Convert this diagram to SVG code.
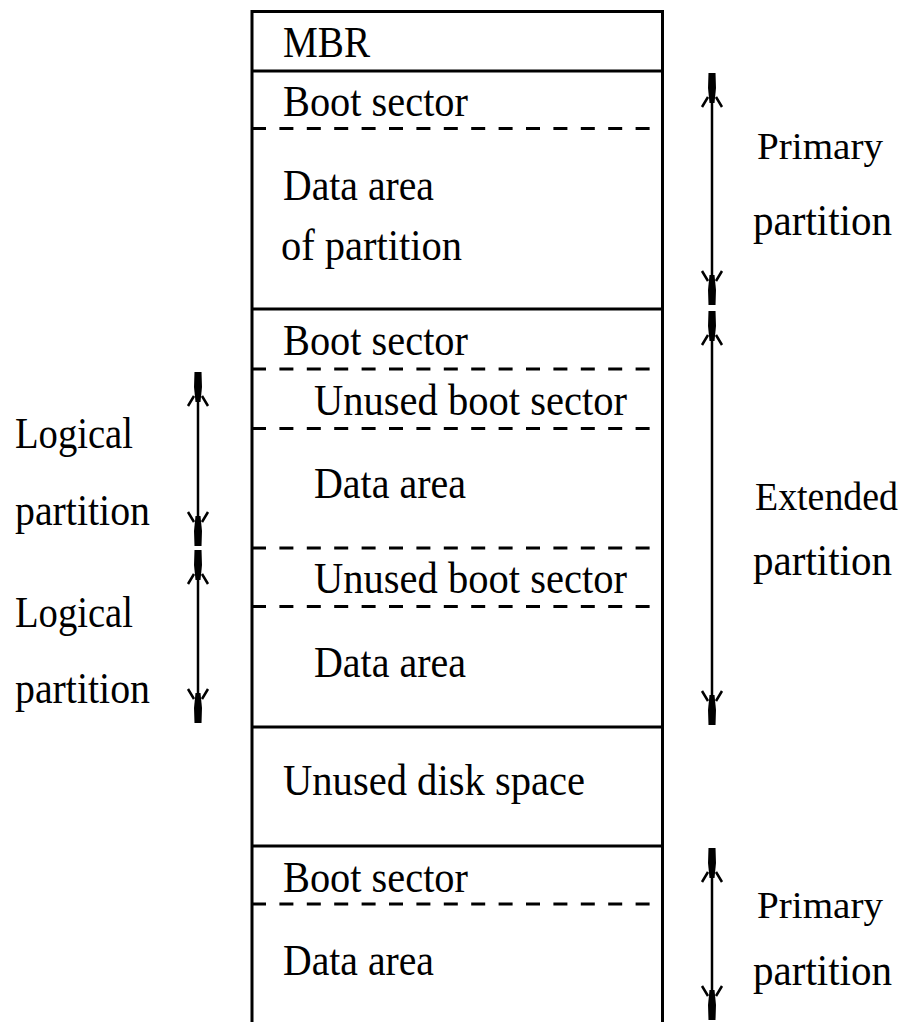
<svg xmlns="http://www.w3.org/2000/svg" width="910" height="1022" viewBox="0 0 910 1022">
  <style>
    .solid { stroke: #000; stroke-width: 3; fill: none; }
    .dash { stroke: #000; stroke-width: 3; fill: none; stroke-dasharray: 14 13.4; }
    .lbl { font-family: "Liberation Serif", "Times New Roman", serif; font-size: 44px; fill: #000; }
    .small { font-size: 38px; }
    .narrow { font-size: 40px; }
    .arrow { stroke: #000; stroke-width: 2.5; fill: none; marker-start: url(#tip); marker-end: url(#tip); }
  </style>
  <defs>
    <marker id="tip" markerUnits="userSpaceOnUse" viewBox="-40 -12 42 24" markerWidth="42" markerHeight="24" refX="0" refY="0" orient="auto-start-reverse">
      <path d="M0,-3.5 L-15,-4 L-30,-2.5 L-30,2.5 L-15,4 L0,3.5 Z" fill="#000"/>
      <path d="M-34,-10 L-24,-4 M-34,10 L-24,4" stroke="#000" stroke-width="2.5" fill="none"/>
    </marker>
  </defs>
  <rect width="910" height="1022" fill="#fff"/>

  <!-- disk layout column -->
  <g id="disk">
    <path class="solid" d="M252,1022 V11.5 H662.5 V1022"/>
  </g>

  <g id="mbr">
    <line class="solid" x1="252" y1="71" x2="662.5" y2="71"/>
    <text class="lbl" x="283" y="57" textLength="87" lengthAdjust="spacingAndGlyphs">MBR</text>
  </g>

  <g id="primary1">
    <text class="lbl" x="283" y="116" textLength="185" lengthAdjust="spacingAndGlyphs">Boot sector</text>
    <line class="dash" x1="252" y1="128.5" x2="652" y2="128.5"/>
    <text class="lbl" x="283" y="200" textLength="151" lengthAdjust="spacingAndGlyphs">Data area</text>
    <text class="lbl" x="281" y="260" textLength="181" lengthAdjust="spacingAndGlyphs">of partition</text>
    <line class="solid" x1="252" y1="309" x2="662.5" y2="309"/>
  </g>

  <g id="extended">
    <text class="lbl" x="283" y="355" textLength="185" lengthAdjust="spacingAndGlyphs">Boot sector</text>
    <line class="dash" x1="252" y1="369" x2="652" y2="369"/>
  </g>

  <g id="logical1">
    <text class="lbl" x="314" y="415" textLength="313" lengthAdjust="spacingAndGlyphs">Unused boot sector</text>
    <line class="dash" x1="252" y1="428.5" x2="652" y2="428.5"/>
    <text class="lbl" x="314" y="498" textLength="152" lengthAdjust="spacingAndGlyphs">Data area</text>
    <line class="dash" x1="252" y1="548" x2="652" y2="548"/>
  </g>

  <g id="logical2">
    <text class="lbl" x="314" y="593" textLength="313" lengthAdjust="spacingAndGlyphs">Unused boot sector</text>
    <line class="dash" x1="252" y1="606.5" x2="652" y2="606.5"/>
    <text class="lbl" x="314" y="677" textLength="152" lengthAdjust="spacingAndGlyphs">Data area</text>
    <line class="solid" x1="252" y1="727" x2="662.5" y2="727"/>
  </g>

  <g id="unused">
    <text class="lbl" x="283" y="795" textLength="302" lengthAdjust="spacingAndGlyphs">Unused disk space</text>
    <line class="solid" x1="252" y1="846" x2="662.5" y2="846"/>
  </g>

  <g id="primary2">
    <text class="lbl" x="283" y="892" textLength="185" lengthAdjust="spacingAndGlyphs">Boot sector</text>
    <line class="dash" x1="252" y1="904" x2="652" y2="904"/>
    <text class="lbl" x="283" y="975" textLength="151" lengthAdjust="spacingAndGlyphs">Data area</text>
  </g>

  <!-- span arrows -->
  <g id="connectors">
    <line class="arrow" x1="712" y1="73" x2="712" y2="305"/>
    <line class="arrow" x1="712" y1="311" x2="712" y2="725"/>
    <line class="arrow" x1="712" y1="848" x2="712" y2="1020"/>
    <line class="arrow" x1="198" y1="372" x2="198" y2="546"/>
    <line class="arrow" x1="198" y1="550" x2="198" y2="723"/>
  </g>

  <!-- span labels -->
  <g id="label-primary1">
    <text class="lbl small" x="757" y="159" textLength="126" lengthAdjust="spacingAndGlyphs">Primary</text>
    <text class="lbl" x="753" y="235" textLength="139" lengthAdjust="spacingAndGlyphs">partition</text>
  </g>
  <g id="label-extended">
    <text class="lbl narrow" x="755" y="510" textLength="143" lengthAdjust="spacingAndGlyphs">Extended</text>
    <text class="lbl" x="753" y="575" textLength="139" lengthAdjust="spacingAndGlyphs">partition</text>
  </g>
  <g id="label-primary2">
    <text class="lbl small" x="757" y="918" textLength="126" lengthAdjust="spacingAndGlyphs">Primary</text>
    <text class="lbl" x="753" y="985" textLength="139" lengthAdjust="spacingAndGlyphs">partition</text>
  </g>
  <g id="label-logical1">
    <text class="lbl" x="15" y="448" textLength="118" lengthAdjust="spacingAndGlyphs">Logical</text>
    <text class="lbl" x="15" y="525" textLength="135" lengthAdjust="spacingAndGlyphs">partition</text>
  </g>
  <g id="label-logical2">
    <text class="lbl" x="15" y="627" textLength="118" lengthAdjust="spacingAndGlyphs">Logical</text>
    <text class="lbl" x="15" y="703" textLength="135" lengthAdjust="spacingAndGlyphs">partition</text>
  </g>
</svg>
